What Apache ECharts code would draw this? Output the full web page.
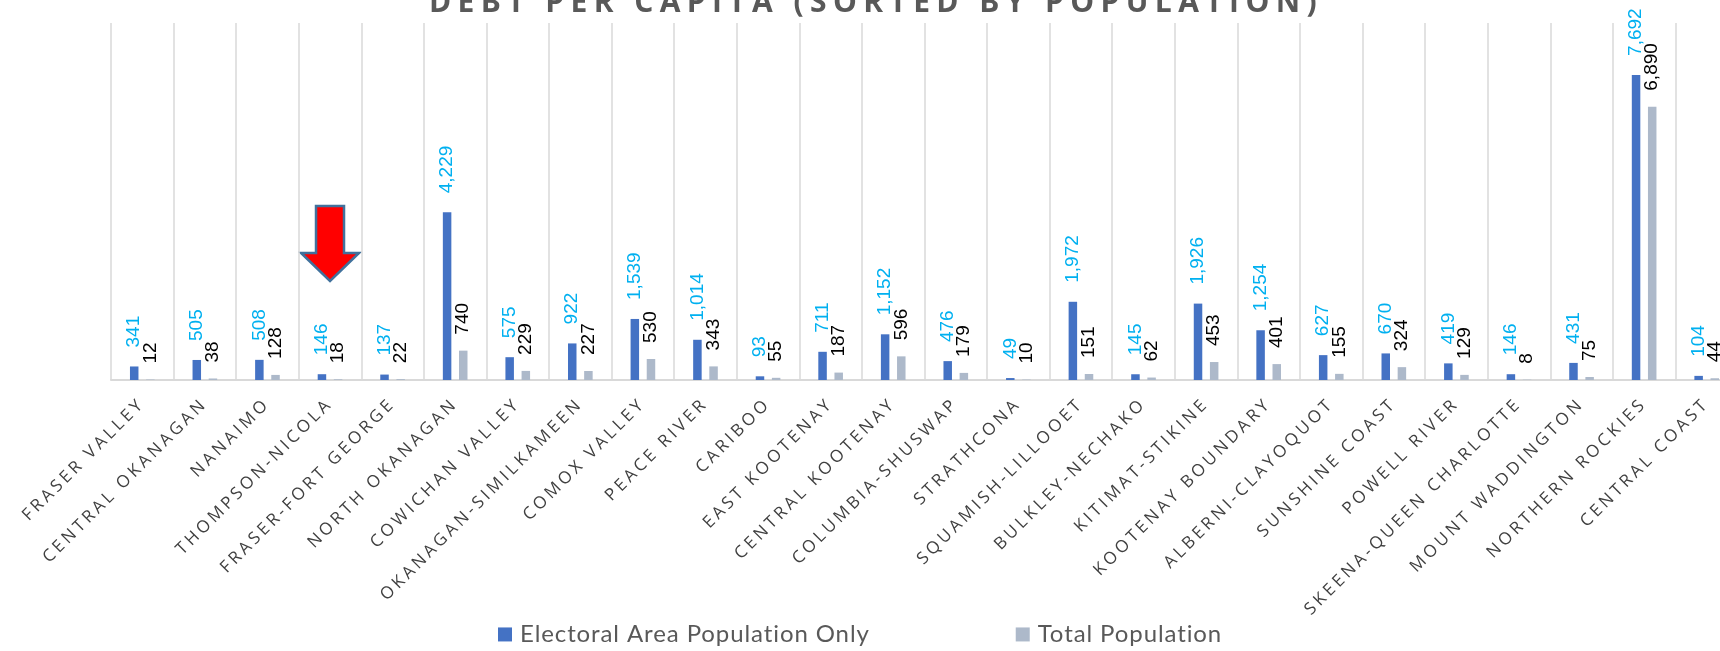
<!DOCTYPE html>
<html>
<head>
<meta charset="utf-8">
<script src="https://cdn.jsdelivr.net/npm/echarts@6/dist/echarts.min.js"></script>
<style>
html,body{margin:0;padding:0;background:#fff;}
#c{width:1720px;height:651px;}
</style>
</head>
<body>
<div id="c"></div>
<script>
// ---- data ----
const categories = ['FRASER VALLEY','CENTRAL OKANAGAN','NANAIMO','THOMPSON-NICOLA','FRASER-FORT GEORGE','NORTH OKANAGAN','COWICHAN VALLEY','OKANAGAN-SIMILKAMEEN','COMOX VALLEY','PEACE RIVER','CARIBOO','EAST KOOTENAY','CENTRAL KOOTENAY','COLUMBIA-SHUSWAP','STRATHCONA','SQUAMISH-LILLOOET','BULKLEY-NECHAKO','KITIMAT-STIKINE','KOOTENAY BOUNDARY','ALBERNI-CLAYOQUOT','SUNSHINE COAST','POWELL RIVER','SKEENA-QUEEN CHARLOTTE','MOUNT WADDINGTON','NORTHERN ROCKIES','CENTRAL COAST'];
const electoralAreaOnly = [341,505,508,146,137,4229,575,922,1539,1014,93,711,1152,476,49,1972,145,1926,1254,627,670,419,146,431,7692,104];
const totalPopulation = [12,38,128,18,22,740,229,227,530,343,55,187,596,179,10,151,62,453,401,155,324,129,8,75,6890,44];
const seriesNames = ['Electoral Area Population Only','Total Population'];
const titleText = 'DEBT PER CAPITA (SORTED BY POPULATION)';
const arrowCategory = 'THOMPSON-NICOLA';

// ---- letter spacing for spaced Excel-style text ----
(function(){
  const P = CanvasRenderingContext2D.prototype;
  if (!('letterSpacing' in P)) return;
  function ls(f){
    if (/Open Sans/.test(f)) return /bold|700/.test(f) ? '6.4px' : '3.4px';
    if (/Lato/.test(f)) return '0.9px';
    return '0px';
  }
  const fT = P.fillText, mT = P.measureText;
  P.fillText = function(t,x,y,m){ this.letterSpacing = ls(this.font); return m===undefined ? fT.call(this,t,x,y) : fT.call(this,t,x,y,m); };
  P.measureText = function(t){ this.letterSpacing = ls(this.font); return mT.call(this,t); };
})();

const fmt = v => Number(v).toLocaleString('en-US');
const chart = echarts.init(document.getElementById('c'), null, {renderer:'canvas'});

const titleGraphic = {type:'text', id:'title', x:876, y:22, silent:true,
  style:{text:titleText, fill:'#595959', font:'bold 30px "Open Sans"', textAlign:'center', textVerticalAlign:'bottom'}};

const option = {
  animation:false,
  backgroundColor:'#fff',
  grid:{left:111, top:23, width:1627, height:357, containLabel:false, outerBoundsMode:'none'},
  legend:{
    data:seriesNames,
    left:498, top:622, padding:0,
    itemWidth:14, itemHeight:14, itemGap:146,
    icon:'rect',
    textStyle:{fontFamily:'Lato', fontSize:24, color:'#595959', padding:[0,0,0,3]}
  },
  xAxis:{
    type:'category', data:categories, boundaryGap:true,
    axisLine:{show:true, lineStyle:{color:'#d9d9d9', width:2}},
    axisTick:{show:false},
    splitLine:{show:true, lineStyle:{color:'#d9d9d9', width:1.5}},
    axisLabel:{interval:0, rotate:45, margin:21, fontFamily:'Open Sans', fontSize:17, color:'#404040'}
  },
  yAxis:{type:'value', min:0, max:9000, show:false, splitLine:{show:false}},
  series:[
    {
      name:seriesNames[0], type:'bar', data:electoralAreaOnly,
      barWidth:8.5, barGap:'90%',
      itemStyle:{color:'#4472c4'},
      label:{show:true, position:'top', rotate:90, align:'left', verticalAlign:'middle', distance:19,
        formatter:p=>fmt(p.value), fontFamily:'Liberation Sans', fontSize:19, color:'#00b0f0'}
    },
    {
      name:seriesNames[1], type:'bar', data:totalPopulation,
      barWidth:8.5,
      itemStyle:{color:'#adb9ca'},
      label:{show:true, position:'top', rotate:90, align:'left', verticalAlign:'middle', distance:16,
        formatter:p=>fmt(p.value), fontFamily:'Liberation Sans', fontSize:19, color:'#000000'}
    }
  ],
  graphic:[titleGraphic]
};
chart.setOption(option);

// arrow annotation above the chosen category
const cx = chart.convertToPixel({xAxisIndex:0}, arrowCategory);
chart.setOption({graphic:[
  titleGraphic,
  {type:'polygon', id:'arrow', silent:true,
   shape:{points:[[cx-14,206],[cx+14,206],[cx+14,253],[cx+29,253],[cx,281],[cx-29,253],[cx-14,253]]},
   style:{fill:'#ff0000', stroke:'#41719c', lineWidth:2.5}}
]});
</script>
</body>
</html>
